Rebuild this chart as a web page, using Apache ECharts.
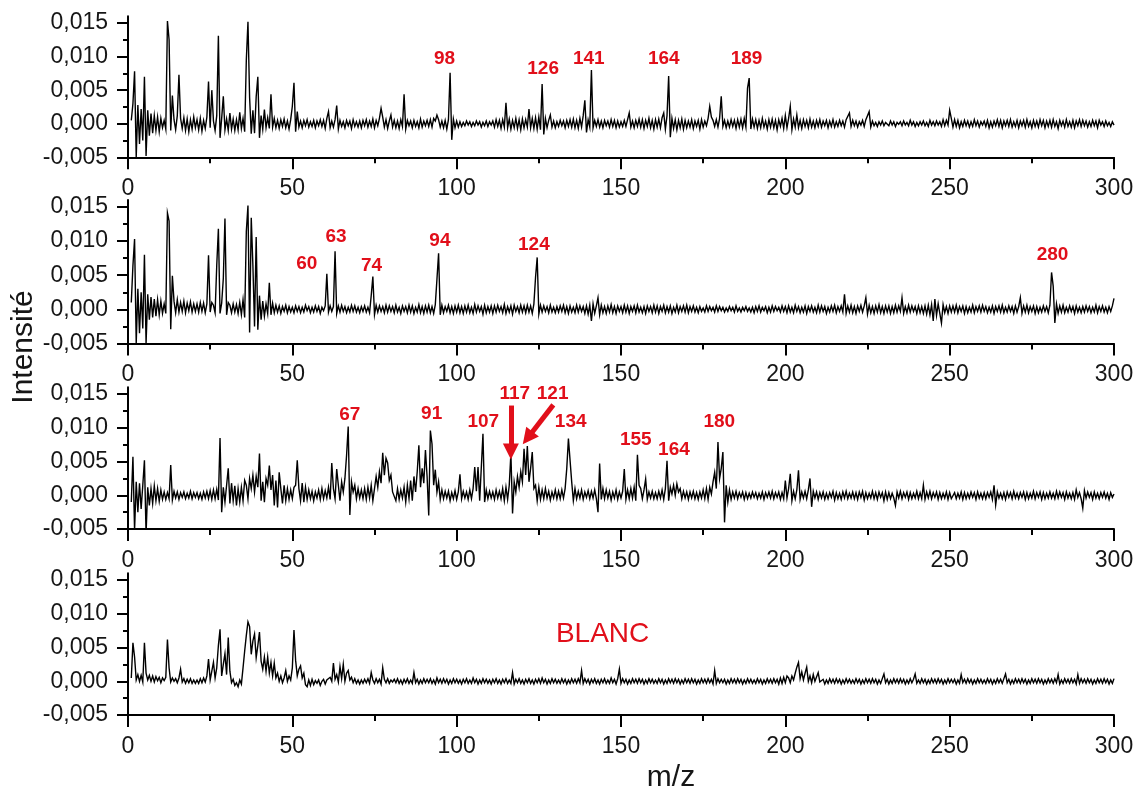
<!DOCTYPE html>
<html><head><meta charset="utf-8">
<script src="https://cdn.jsdelivr.net/npm/echarts@6/dist/echarts.min.js"></script>
<style>html,body{margin:0;padding:0;background:#fff}#chart{width:1145px;height:794px}</style>
</head><body><div id="chart"></div>
<script>
// ---- sampling of the spectra: each row covers 10 m/z, one value every 0.5 m/z, first row starts at m/z 1 ----
const mzStart = 1;
const mzStep = 0.5;
const rowSpan = 10;
// intensities in units of 0.0001

const spectrum1Rows = [
[5,30,78,-50,28,-30,22,-25,70,-48,20,-18,15,-14,12,-10,10,-12,8,-6],
[5,-8,153,125,-10,42,6,-9,12,73,8,-7,9,-10,7,-12,6,-8,10,-6],
[6,-9,8,-11,5,-7,10,63,-6,50,4,-10,12,131,-21,8,41,-9,7,-10],
[16,-8,7,-10,6,-9,17,-7,8,-12,95,152,39,-15,20,-14,40,70,-21,12],
[-8,21,-6,9,-7,44,-5,8,-6,5,-7,6,-4,7,-6,4,-8,6,26,61],
[-12,18,-5,4,-6,5,-3,6,-5,3,-4,5,-6,4,-3,6,-4,5,-7,8],
[18,-6,4,-5,6,27,-8,5,-4,3,-6,5,-3,4,-7,6,-4,3,-5,4],
[-6,5,-3,6,-5,4,-4,7,-6,5,-3,8,23,10,-5,6,-7,4,13,-5],
[5,-6,4,-7,6,-4,44,-8,5,-3,4,-6,5,-4,3,-6,7,-5,4,-3],
[5,-4,6,-5,8,4,13,6,-5,4,-6,5,-8,6,76,-24,7,-6,4,-5],
[3,-4,2,-3,4,-2,3,-4,2,-3,4,-2,3,-5,2,-3,4,-4,3,-2],
[4,-5,6,-4,5,-7,6,-5,31,-6,7,-8,5,-6,8,-7,6,-9,7,-6],
[6,-5,22,-6,8,-7,9,-8,10,-9,59,-16,8,-6,5,13,-5,4,-6,3],
[-4,5,-3,4,-6,5,-4,6,-5,7,-6,5,-7,8,-5,12,35,-13,6,-5],
[80,-6,5,-4,6,-5,4,-6,5,-3,4,-5,6,-4,5,-6,4,-5,3,-4],
[5,-4,6,16,-5,4,-6,5,-4,7,-5,6,-7,5,-4,8,-6,5,-8,6],
[-5,7,-6,9,16,-8,12,71,-20,8,-7,6,-9,5,-6,7,-8,5,-6,4],
[-5,6,-7,4,-4,5,-8,6,-5,4,-3,8,26,10,5,-4,6,-5,8,41],
[-4,5,-6,4,-5,6,-4,5,-7,6,-5,7,-6,8,-5,53,68,-8,7,-5],
[6,-7,5,-6,8,-5,4,-8,6,-5,7,-6,5,-9,6,-4,8,-7,12,-6],
[8,26,-9,7,-5,13,-6,5,-7,6,-4,5,-6,7,-5,4,-6,5,-4,6],
[-5,4,-3,5,-6,4,-4,6,-5,3,-4,5,-3,4,-5,6,4,16,-4,5],
[-3,4,-5,3,-2,5,-4,6,5,18,-5,4,-3,2,-4,3,-2,4,-3,2],
[2,-3,4,-2,3,-4,2,-1,3,-3,4,-2,2,-3,5,-2,3,-4,2,-3],
[3,-2,4,-3,2,-4,5,-2,3,-3,4,-2,3,-4,6,-3,5,-2,20,8],
[-5,6,-4,5,-6,3,-4,5,-3,4,-5,3,-4,6,-3,4,-5,3,-2,4],
[-4,5,-6,3,-5,4,-3,6,-4,5,-6,4,-3,5,-4,6,-5,3,-4,5],
[-6,4,-3,5,-5,6,-4,3,-6,5,-4,4,-5,6,-3,5,-6,4,-4,5],
[-5,6,-4,3,-7,5,-3,4,-5,6,-4,3,-5,5,-6,4,-3,6,-4,5],
[-3,4,-5,3,-4,5,-3,4,-6,5,-2,3,-4,4,-3,2,-4,3,-2]
];

const spectrum2Rows = [
[10,64,103,-50,30,-35,25,-28,80,-50,22,-15,18,-12,15,-10,14,-8,12,-6],
[8,-6,141,129,-29,49,12,-5,14,-4,10,-3,12,-5,9,-2,11,-4,8,-3],
[8,-4,10,-3,9,-5,8,79,-4,10,6,-5,64,118,-6,9,45,133,-8,10],
[6,-5,8,-4,7,-6,10,-8,14,-12,114,152,-34,134,64,-25,106,-30,20,-15],
[12,-10,8,-6,39,-8,9,-5,6,-4,5,-6,4,-3,6,-5,4,-4,3,-5],
[5,-3,4,-5,3,-4,6,-2,4,-5,3,-4,5,-3,4,-6,3,-2,5,52],
[-4,5,-3,4,85,-6,5,-4,6,-3,4,-5,3,-4,6,-3,5,-4,3,-5],
[4,-3,5,-4,3,-5,20,48,-8,6,-4,5,-3,4,-5,6,-4,5,-3,4],
[-5,6,-4,3,-6,5,-3,4,-5,6,-4,5,-6,3,-4,7,-5,4,-6,5],
[-4,6,-5,4,-6,7,44,82,-8,6,-5,4,-3,6,-5,4,-6,5,-4,6],
[-5,4,-6,5,-4,6,-5,3,-6,7,-4,5,-3,4,-7,6,-5,4,-4,5],
[-6,5,-4,6,-3,4,-5,7,-6,4,-4,5,-7,6,-3,4,-5,6,-4,5],
[-5,6,-4,5,-6,8,47,76,-7,6,-4,5,-3,4,-5,6,-4,3,-5,4],
[-4,5,-3,6,-5,4,-6,5,-4,3,-5,6,-4,5,-3,4,-6,5,-7,6],
[-17,8,-6,5,17,-8,6,-5,4,-6,5,-4,7,-5,4,-6,5,-3,4,-5],
[6,-4,5,-6,4,-3,5,-5,6,-4,3,-5,4,-6,5,-3,4,-5,6,-4],
[5,-6,4,-3,6,-5,4,-4,5,-6,3,-4,6,-5,4,-3,5,-4,6,-5],
[4,-3,5,-4,3,-5,4,-3,2,-4,5,-3,4,-2,3,-4,5,-3,4,-2],
[3,-4,2,-3,4,-2,3,-4,5,-3,2,-4,3,-2,4,-3,2,-4,3,-5],
[4,-3,5,-4,3,-2,4,-5,3,-4,5,-3,4,-2,3,-4,5,-3,4,-5],
[5,-4,3,-5,6,-3,4,-5,3,-4,5,-6,4,-3,5,-4,3,-5,6,-4],
[5,-3,4,-6,3,-4,5,-3,6,-5,4,-3,5,-4,22,-6,5,-4,6,-5],
[4,-6,5,-3,6,-4,5,17,-7,6,-5,4,-6,5,-4,7,-5,4,-6,5],
[-4,5,-6,4,-5,6,-4,5,-3,17,-6,4,-5,6,-4,5,-3,4,-6,5],
[-5,4,-6,5,-7,6,-8,7,-17,15,-9,8,-6,-20,7,-5,4,-6,5,-4],
[5,-4,6,-5,4,-3,5,-6,4,-5,3,-4,6,-5,4,-3,5,-4,6,-3],
[4,-5,3,-4,5,-6,4,-3,5,-4,6,-5,3,-4,5,-3,4,-6,5,-4],
[4,17,-6,5,-4,6,-5,4,-3,5,-6,4,-5,3,-4,5,-3,4,-5,6],
[54,34,-20,8,-6,5,-4,6,-5,3,-4,5,-3,4,-6,5,-4,3,-5,4],
[-4,5,-3,4,-5,3,-4,6,-5,4,-3,5,-4,3,-5,4,-3,5,16]
];

const spectrum3Rows = [
[-10,57,-52,20,-25,18,-20,15,52,-57,12,-15,10,-12,14,-8,10,-9,8,-6],
[5,-6,4,-5,45,-7,6,-4,5,-6,4,-3,5,-5,3,-4,6,-5,4,-3],
[4,-5,3,-6,5,-4,6,-5,7,-6,8,-5,9,-7,85,-25,12,-10,15,40],
[-12,18,-8,14,-15,10,-10,12,-8,22,15,-5,25,10,30,5,28,12,62,-8],
[20,-10,25,15,44,8,30,-15,22,-18,34,10,-12,15,-8,10,-6,8,-5,12],
[15,52,10,-8,18,-10,12,-6,8,-5,6,-8,5,-4,8,-6,10,-5,7,-4],
[12,-6,48,10,-5,39,15,-8,20,5,25,59,102,-29,20,5,15,-5,10,-4],
[8,-5,10,-6,12,-4,15,-8,10,28,12,35,18,63,30,55,48,22,30,5],
[5,-8,10,-6,8,-4,12,-10,15,-5,22,-8,28,5,35,74,12,40,18,67],
[28,-30,96,76,15,38,5,20,-6,8,-5,6,-4,6,-8,4,-5,7,-6,5],
[31,-5,6,-4,5,-6,8,-5,10,42,6,42,-8,-6,91,-10,8,-5,6,-4],
[5,-6,8,-4,6,-5,10,-8,12,-6,15,62,-27,20,5,28,12,35,20,69],
[30,73,20,40,64,10,15,-8,12,-6,8,-5,10,-4,6,-7,5,-4,8,-5],
[6,-5,8,-4,10,40,84,83,20,-8,10,-5,6,-4,8,-6,5,-3,7,-5],
[6,-4,8,-5,-25,47,-6,10,-5,8,-4,6,-7,5,-4,8,-6,5,-4,6],
[39,-6,8,-5,10,-4,12,-8,60,15,10,-5,8,24,-6,5,-4,6,-5,4],
[-5,6,-4,8,-6,10,51,-8,12,2,15,0,17,5,10,-5,6,-4,5,-6],
[5,-4,6,-5,4,-6,5,-4,8,-5,10,-6,12,2,20,34,10,79,25,40],
[64,-40,15,-10,8,-6,5,-4,6,-5,4,-3,5,-6,4,-5,3,-4,5,-3],
[4,-5,3,-4,5,-6,4,-3,5,-4,6,-5,4,-3,5,-6,4,-5,22,-4],
[10,32,-8,6,-5,8,37,-6,5,-4,6,-5,8,25,-17,6,-4,5,-6,4],
[-4,5,-6,3,-5,4,-3,6,-7,4,-5,3,-6,5,-4,6,-5,3,-4,5],
[-5,4,-6,5,-3,6,-7,4,-5,3,-4,6,-5,4,-6,5,-3,4,-8,5],
[-6,4,-5,3,-4,-15,5,-4,6,-5,4,-3,5,-6,4,-5,3,-4,6,-5],
[4,-5,15,-6,5,-4,6,-5,4,-3,5,-6,4,-5,3,-4,5,-6,4,-5],
[-3,4,-5,3,-4,5,-6,4,-5,3,-4,5,-3,4,-6,5,-4,3,-5,4],
[-5,4,-3,5,-6,15,-14,5,-4,3,-5,4,-6,5,-3,4,-5,6,-4,3],
[-5,4,-3,5,-6,4,-5,3,-4,6,-5,4,-3,5,-6,4,-5,3,-4,5],
[-4,3,-5,6,-4,5,-3,4,-6,5,-4,3,-5,4,-6,8,-3,4,-5,-19],
[7,-4,5,-3,4,-6,5,-4,3,-5,4,-3,5,-4,3,-6,4,-3,2]
];

const blankRows = [
[5,57,36,2,10,0,9,-1,57,12,2,9,0,8,-1,7,1,6,-2,5],
[1,6,62,20,-1,5,0,4,-2,5,18,-1,4,-3,3,-2,4,-3,2,-3],
[2,-3,4,-2,5,-1,8,33,2,15,28,5,20,53,77,8,25,41,10,65],
[15,-2,3,-6,-2,-8,2,-4,20,45,68,88,81,40,60,70,35,53,73,30],
[18,36,15,36,12,28,8,27,5,12,0,8,-2,5,16,0,8,2,20,76],
[31,8,18,23,5,12,-5,-8,2,-6,3,-5,1,-3,2,-6,0,3,-4,2],
[3,6,0,27,3,10,-1,22,4,25,0,12,16,2,6,-2,4,-3,2,-4],
[2,-3,3,-2,4,-3,13,2,-3,4,-2,3,-4,20,3,-2,4,-3,2,-1],
[3,-2,4,-3,2,-4,3,-2,4,-3,2,-3,13,-2,3,-4,2,-3,4,-2],
[3,-2,4,-3,2,-4,5,-2,3,-3,4,-2,3,-4,2,-3,4,-2,3,-3],
[2,-4,3,-2,4,-3,2,-3,5,-2,3,-4,2,-3,4,-2,3,-3,2,-4],
[3,-2,4,-3,2,-4,3,-2,4,-3,2,-3,13,-4,3,-2,4,-3,2,-4],
[3,-2,4,-3,2,-4,3,-2,4,-3,5,-2,3,-4,2,-3,4,-2,3,-3],
[2,-3,4,-2,3,-4,2,-3,4,-2,3,-3,4,-2,16,-3,4,-2,3,-4],
[3,-2,4,-3,2,-4,3,-2,4,-3,2,-3,5,-2,3,-4,4,18,-3,4],
[-2,3,-4,2,-3,4,-2,3,-3,4,-2,3,-4,2,-3,4,-2,3,-3,2],
[-3,4,-2,3,-4,2,-3,4,-2,3,-3,4,-2,3,-4,2,-3,4,-2,3],
[-3,4,-2,3,-4,2,-3,4,-2,3,-3,4,-2,3,-4,16,-3,4,-2,3],
[-2,3,-4,2,-3,4,-2,3,-3,4,-2,3,-4,2,-3,4,-2,3,-3,2],
[-3,4,-2,3,-4,2,-3,4,-2,3,-3,4,-2,3,-4,5,-3,6,-2,8],
[5,-2,8,2,12,21,28,4,14,2,12,21,0,8,-2,10,0,-2,13,-1],
[-2,3,-4,2,-3,4,-2,3,-3,4,-2,3,-4,2,-3,4,-2,3,-3,2],
[-3,4,-2,3,-4,2,-3,4,-2,3,-3,4,-2,3,-4,2,-3,4,11,-2],
[3,-4,2,-3,4,-2,3,-3,4,-2,3,-4,2,-3,4,-2,3,11,-3,2],
[-3,4,-2,3,-4,2,-3,4,-2,3,-3,4,-2,3,-4,2,-3,4,-2,3],
[-2,3,-4,2,-3,10,-2,3,-3,4,-2,3,-4,2,-3,4,-2,3,-3,2],
[-3,4,-2,3,-4,2,-3,4,-2,3,-3,4,11,-2,3,-4,2,-3,4,-2],
[3,-3,4,-2,3,-4,2,-3,4,-2,3,-3,4,-2,3,-4,2,-3,4,-2],
[3,-3,4,-2,10,-4,2,-3,4,-2,3,-3,4,-2,3,-4,10,-3,4,-2],
[3,-3,4,-2,3,-4,2,-3,4,-2,3,-3,4,-2,3,-4,2,-3,4]
];

// ---- ticks ----
const xTickValues = [0, 50, 100, 150, 200, 250, 300];
const xTickLabels = ['0', '50', '100', '150', '200', '250', '300'];
const yTickValues = [-50, 0, 50, 100, 150];
const yTickLabels = ['-0,005', '0,000', '0,005', '0,010', '0,015'];
const yMinorTickValues = [-25, 25, 75, 125];

// ---- annotations (m/z, intensity anchor in 0.0001 units) ----
const peakLabels1 = ['98', '126', '141', '164', '189'];
const peakLabels1Mz = [96.3, 126.3, 140.2, 163, 188.2];
const peakLabels1Y = [97, 82, 97, 97, 97];
const peakLabels2 = ['60', '63', '74', '94', '124', '280'];
const peakLabels2Mz = [54.4, 63.3, 74.1, 94.9, 123.5, 281.3];
const peakLabels2Y = [66, 106, 64, 100, 95, 80];
const peakLabels3 = ['67', '91', '107', '117', '121', '134', '155', '164', '180'];
const peakLabels3Mz = [67.5, 92.4, 108.1, 117.7, 129.2, 134.7, 154.5, 166.1, 179.9];
const peakLabels3Y = [120, 121, 109, 151, 151, 109, 82, 67, 109];
const blankLabel = ['BLANC'];
const blankLabelMz = [144.4];
const blankLabelY = [70];
const arrowStart3 = [[116.5, 133], [129.4, 134]];
const arrowEnd3 = [[116.5, 65], [121.6, 85]];

// ---- layout ----
const FONT = '"Liberation Sans", Arial, Helvetica, sans-serif';
const RED = '#e10f1a';
const INK = '#161616';
const gridBoxes = [
  {top: 16.3, height: 141},
  {top: 200, height: 143.5},
  {top: 387.3, height: 141.8},
  {top: 573.3, height: 141.8}
];

function buildSeries(rows) {
  const out = [];
  rows.forEach((row, r) => row.forEach((v, j) => out.push([mzStart + rowSpan * r + mzStep * j, v])));
  return out;
}
function buildLabels(names, xs, ys) {
  return names.map((n, i) => ({name: n, value: [xs[i], ys[i]]}));
}
const allRows = [spectrum1Rows, spectrum2Rows, spectrum3Rows, blankRows];
const labelSets = [
  buildLabels(peakLabels1, peakLabels1Mz, peakLabels1Y),
  buildLabels(peakLabels2, peakLabels2Mz, peakLabels2Y),
  buildLabels(peakLabels3, peakLabels3Mz, peakLabels3Y),
  buildLabels(blankLabel, blankLabelMz, blankLabelY)
];

const axisLineStyle = {color: '#000', width: 2};
const grids = [], xAxes = [], yAxes = [], series = [];
gridBoxes.forEach((g, i) => {
  grids.push({left: 128, width: 986, top: g.top, height: g.height, containLabel: false});
  xAxes.push({
    gridIndex: i, type: 'value', min: 0, max: 300, interval: 50,
    axisLine: {show: true, onZero: false, lineStyle: axisLineStyle},
    axisTick: {show: true, inside: false, length: 12, lineStyle: axisLineStyle},
    minorTick: {show: true, splitNumber: 2, length: 6, lineStyle: axisLineStyle},
    splitLine: {show: false}, minorSplitLine: {show: false},
    axisLabel: {
      margin: 20, fontSize: 23, color: INK, fontFamily: FONT,
      formatter: v => { const k = xTickValues.indexOf(v); return k >= 0 ? xTickLabels[k] : ''; }
    }
  });
  yAxes.push({
    gridIndex: i, type: 'value', min: -50, max: 160, interval: 50, position: 'left',
    axisLine: {show: true, onZero: false, lineStyle: axisLineStyle},
    axisTick: {show: true, inside: false, length: 11, customValues: yTickValues, lineStyle: axisLineStyle},
    splitLine: {show: false},
    axisLabel: {
      customValues: yTickValues, margin: 20, fontSize: 23, color: INK, fontFamily: FONT,
      formatter: v => { const k = yTickValues.indexOf(v); return k >= 0 ? yTickLabels[k] : ''; }
    }
  });
  yAxes.push({
    gridIndex: i, type: 'value', min: -50, max: 160, interval: 50, position: 'left',
    axisLine: {show: false},
    axisTick: {show: true, inside: false, length: 5, customValues: yMinorTickValues, lineStyle: axisLineStyle},
    axisLabel: {show: false},
    splitLine: {show: false}
  });
  series.push({
    type: 'line', xAxisIndex: i, yAxisIndex: 2 * i,
    data: buildSeries(allRows[i]),
    showSymbol: false, symbol: 'none', clip: true, smooth: false,
    lineStyle: {color: '#000', width: 1.4, join: 'miter'},
    silent: true, animation: false, z: 2
  });
  const lab = {
    type: 'scatter', xAxisIndex: i, yAxisIndex: 2 * i,
    data: labelSets[i], symbol: 'circle', symbolSize: 1,
    itemStyle: {color: 'rgba(0,0,0,0)', opacity: 1},
    label: {show: true, position: 'inside', formatter: '{b}', color: RED, opacity: 1,
            textBorderWidth: 0,
            fontSize: i === 3 ? 28 : 19, fontWeight: i === 3 ? 'normal' : 'bold', fontFamily: FONT},
    silent: true, animation: false, z: 5
  };
  if (i === 2) {
    lab.markLine = {
      silent: true, animation: false,
      symbol: ['none', 'triangle'], symbolSize: [16, 16],
      lineStyle: {color: RED, width: 5, type: 'solid', opacity: 1},
      itemStyle: {color: RED},
      label: {show: false},
      data: arrowStart3.map((s, k) => [{coord: s}, {coord: arrowEnd3[k]}])
    };
  }
  series.push(lab);
});

const chart = echarts.init(document.getElementById('chart'), null, {renderer: 'canvas'});
chart.setOption({
  backgroundColor: '#ffffff',
  animation: false,
  grid: grids, xAxis: xAxes, yAxis: yAxes, series: series,
  graphic: [
    {type: 'text', x: 24, y: 347, rotation: Math.PI / 2,
     style: {text: 'Intensité', fontSize: 30, fontFamily: FONT, fill: INK, align: 'center', verticalAlign: 'middle'}},
    {type: 'text', x: 671, y: 778,
     style: {text: 'm/z', fontSize: 30, fontFamily: FONT, fill: INK, align: 'center', verticalAlign: 'middle'}}
  ]
});
</script></body></html>
